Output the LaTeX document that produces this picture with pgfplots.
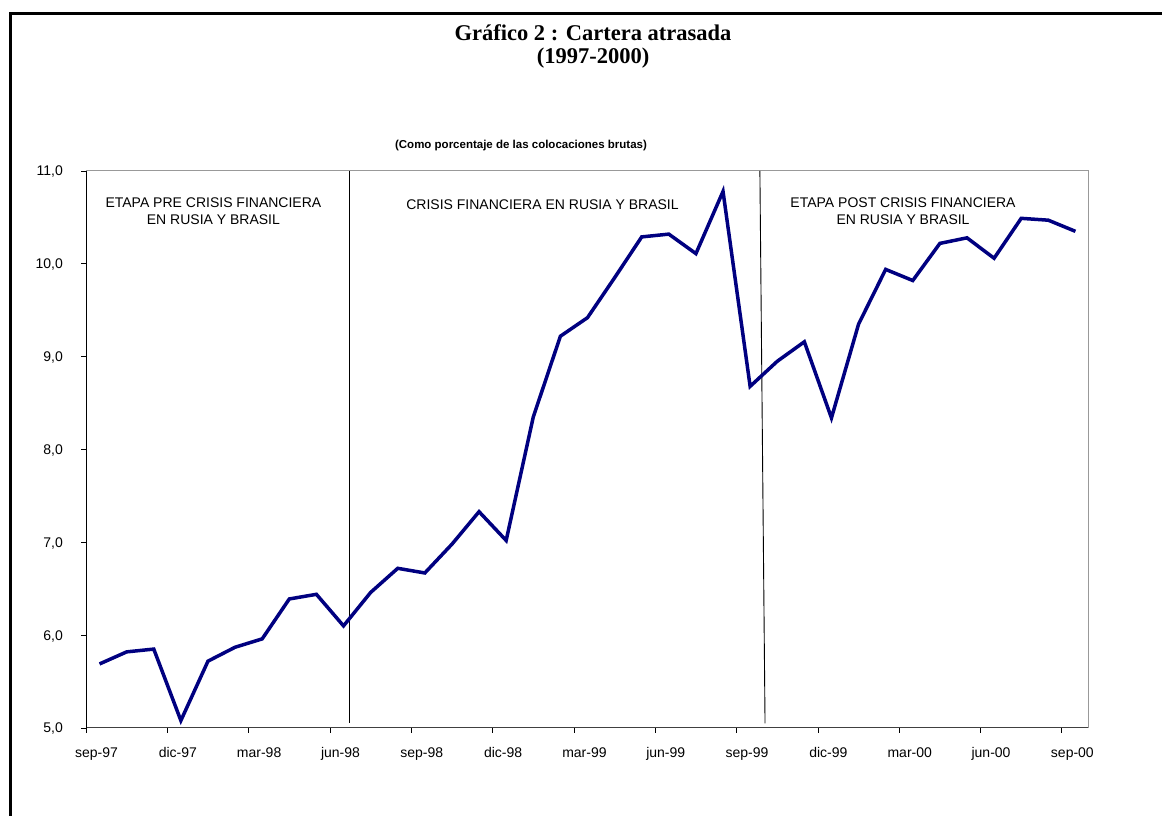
\documentclass[border=0pt]{standalone}
\usepackage{pgfplots}
\pgfplotsset{compat=1.18}
\usepackage{fontspec}
\setmainfont{Liberation Sans}
\newfontfamily\titlefont{Liberation Serif}
\definecolor{navyline}{RGB}{0,0,128}
\pgfplotstableread{
x y
0.5 5.69
1.5 5.82
2.5 5.85
3.5 5.08
4.5 5.72
5.5 5.87
6.5 5.96
7.5 6.39
8.5 6.44
9.5 6.10
10.5 6.46
11.5 6.72
12.5 6.67
13.5 6.98
14.5 7.33
15.5 7.02
16.5 8.35
17.5 9.22
18.5 9.42
19.5 9.85
20.5 10.29
21.5 10.32
22.5 10.11
23.5 10.78
24.5 8.68
25.5 8.95
26.5 9.16
27.5 8.34
28.5 9.35
29.5 9.94
30.5 9.82
31.5 10.22
32.5 10.28
33.5 10.06
34.5 10.49
35.5 10.47
36.5 10.35
}\datatable
\begin{document}
\begin{tikzpicture}[x=1pt,y=1pt]
\useasboundingbox (0,0) rectangle (1162,816);
\fill[white] (0,0) rectangle (1162,816);
\draw[line width=3pt] (10,0) -- (10,802) -- (1162,802);
\node[anchor=base, inner sep=0pt, font=\titlefont\fontsize{22.5}{24}\selectfont\bfseries] at (593,775) {Gráfico 2 : Cartera atrasada};
\node[anchor=base, inner sep=0pt, font=\titlefont\fontsize{22.5}{24}\selectfont\bfseries] at (593,752) {(1997-2000)};
\node[font=\fontsize{11.5}{13}\selectfont\bfseries] at (521,670) {(Como porcentaje de las colocaciones brutas)};
\begin{axis}[
  at={(86pt,88pt)}, anchor=south west,
  scale only axis, width=1003pt, height=557pt,
  xmin=0, xmax=37, ymin=5, ymax=11,
  axis x line*=bottom, axis y line*=left,
  x axis line style={draw=black!75, line width=1pt},
  y axis line style={draw=black, line width=1pt},
  xtick={0,3,...,36},
  xticklabels={sep-97,dic-97,mar-98,jun-98,sep-98,dic-98,mar-99,jun-99,sep-99,dic-99,mar-00,jun-00,sep-00},
  ytick={5,6,...,11},
  yticklabels={{5,0},{6,0},{7,0},{8,0},{9,0},{10,0},{11,0}},
  tick align=outside, major tick length=5pt,
  tick style={black, line width=0.8pt},
  xticklabel style={font=\fontsize{14}{16}\selectfont, anchor=base, inner sep=0pt, xshift=10.5pt, yshift=-25pt},
  yticklabel style={font=\fontsize{14}{16}\selectfont, anchor=base east, inner sep=0pt, xshift=-18pt, yshift=-5pt},
  clip=false,
]
\draw[black!40, line width=1pt] (rel axis cs:0,1) -- (rel axis cs:1,1) -- (rel axis cs:1,0);
\addplot[black, line width=0.9pt] coordinates {(9.71,11) (9.71,5.05)};
\addplot[black, line width=0.9pt] coordinates {(24.86,11) (25.05,5.05)};
\addplot[navyline, line width=3.5pt] table[x=x,y=y] {\datatable};
\node[align=center, font=\fontsize{14}{16.7}\selectfont] at (axis cs:4.70,10.57) {ETAPA PRE CRISIS FINANCIERA\\EN RUSIA Y BRASIL};
\node[font=\fontsize{14}{16.7}\selectfont] at (axis cs:16.84,10.64) {CRISIS FINANCIERA EN RUSIA Y BRASIL};
\node[align=center, font=\fontsize{14}{16.7}\selectfont] at (axis cs:30.14,10.57) {ETAPA POST CRISIS FINANCIERA\\EN RUSIA Y BRASIL};
\end{axis}
\end{tikzpicture}
\end{document}
